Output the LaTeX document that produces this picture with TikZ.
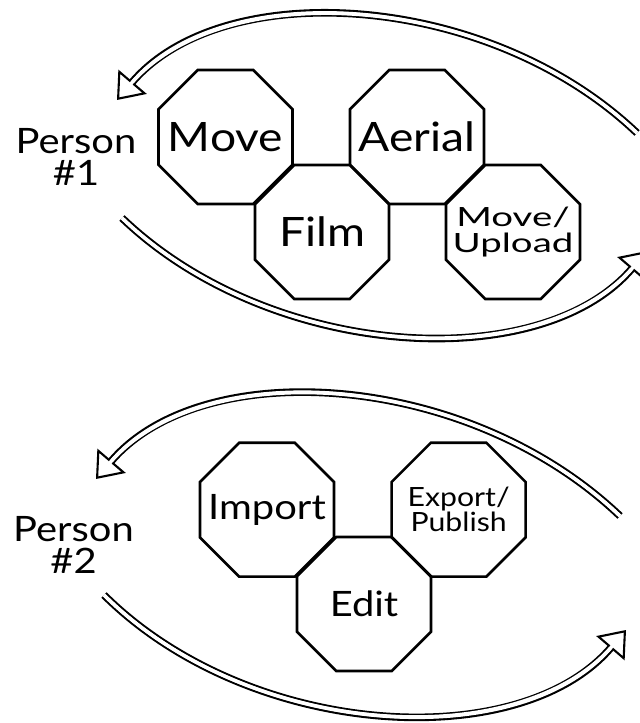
\documentclass[tikz,border=0pt]{standalone}
\usepackage{fontspec}
\setmainfont{Lato}[FakeStretch=1.14]
\newfontfamily\largo{Lato}[FakeStretch=1.45]
\usetikzlibrary{arrows.meta,shapes.geometric}

\begin{document}
\begin{tikzpicture}[
    x=1bp, y=-1bp,
    etapa/.style={regular polygon, regular polygon sides=8, draw=black, line width=2.6bp, minimum size=145bp, inner sep=0pt},
    nome/.style={align=center, inner sep=0pt, font=\fontsize{40.5bp}{40bp}\selectfont},
    menor/.style={font=\fontsize{35bp}{34bp}\selectfont},
    duas/.style={font=\largo\fontsize{26.5bp}{26bp}\selectfont},
    pessoa/.style={align=center, font=\fontsize{35bp}{32bp}\selectfont},
    ciclo/.style={double, double distance=3.4bp, line width=2.1bp, -{Triangle[length=24bp,width=37bp,fill=white]},
        postaction={draw=white, line width=3.4bp, shorten >=20bp, arrows=-}}
]
\clip (0,0) rectangle (640,723);

% Pessoa 1
\node[pessoa] (p1) at (76,157) {Person\\\#1};

% Etapas da pessoa 1
\node[etapa] (m1) at (225.5,137) {};
\node[etapa] (f1) at (322,232) {};
\node[etapa] (a1) at (417,137) {};
\node[etapa] (u1) at (513,232) {};
\node[nome] (m1t) at (m1) {Move};
\node[nome] (f1t) at (f1) {Film};
\node[nome] (a1t) at (a1) {Aerial};
\node[nome, duas] (u1t) at (u1) {Move/\\Upload};

% Setas da pessoa 1
\coordinate (p1a) at (637,133);
\coordinate (p1b) at (117,100);
\coordinate (p1c) at (122,218);
\coordinate (p1d) at (647,251);
\draw[ciclo] (p1a) .. controls (489,-8) and (224,-25) .. (p1b);
\draw[ciclo] (p1c) .. controls (270,360) and (540,376) .. (p1d);

% Pessoa 2
\node[pessoa] (p2) at (73.5,545) {Person\\\#2};

% Etapas da pessoa 2
\node[etapa] (i2) at (267,509.7) {};
\node[etapa] (e2) at (364,604) {};
\node[etapa] (x2) at (458.6,509.7) {};
\node[nome, menor] (i2t) at (i2) {Import};
\node[nome, menor] (e2t) at (e2) {Edit};
\node[nome, font=\fontsize{26.5bp}{22bp}\selectfont] (x2t) at (x2) {Export/\\Publish};

% Setas da pessoa 2
\coordinate (p2a) at (620,516);
\coordinate (p2b) at (96,479);
\coordinate (p2c) at (104,595);
\coordinate (p2d) at (626,630);
\draw[ciclo] (p2a) .. controls (468,371) and (203,354) .. (p2b);
\draw[ciclo] (p2c) .. controls (249,739) and (519,755) .. (p2d);

\end{tikzpicture}
\end{document}
